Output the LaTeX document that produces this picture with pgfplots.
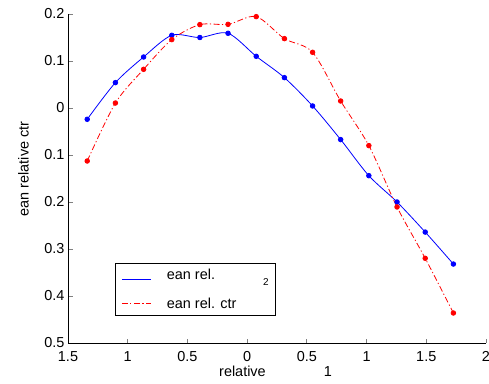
\documentclass[border=0pt]{standalone}
\usepackage{pgfplots}
\pgfplotsset{compat=1.18}
\usepackage{fontspec}
\setmainfont{Liberation Sans}
\newcommand\ff{\fontsize{14.5}{17}\selectfont}
\pgfplotsset{
  bluelegimg/.style={legend image code/.code={\path (0bp,-4.35bp) -- (29bp,-4.35bp);\pgfpathrectangle{\pgfpoint{0bp}{-9bp}}{\pgfpoint{29bp}{18bp}}\pgfusepath{use as bounding box}}},
  redlegimg/.style={legend image code/.code={\path (0bp,0bp) -- (29bp,0bp);\pgfpathrectangle{\pgfpoint{0bp}{-9bp}}{\pgfpoint{29bp}{18bp}}\pgfusepath{use as bounding box}}},
}
\begin{document}
\begin{tikzpicture}
\useasboundingbox (0,0) rectangle (489bp,384bp);
\begin{axis}[
  at={(68bp,41bp)}, anchor=south west,
  scale only axis, width=418bp, height=329bp,
  xmin=-1.5, xmax=2, ymin=-0.5, ymax=0.2,
  axis lines*=left,
  tick pos=left,
  tick align=inside,
  major tick length=4.5bp,
  axis line style={line width=0.8bp},
  xtick={-1.5,-1,-0.5,0,0.5,1,1.5,2},
  xticklabels={1.5,1,0.5,0,0.5,1,1.5,2},
  ytick={-0.5,-0.4,-0.3,-0.2,-0.1,0,0.1,0.2},
  yticklabels={0.5,0.4,0.3,0.2,0.1,0,0.1,0.2},
  /pgf/number format/assume math mode=true,
  tick label style={font=\ff},
  major tick style={line width=0.8bp},
  xticklabel style={yshift=-5bp},
  xlabel={relative\hspace{58bp}1},
  xlabel style={at={(axis description cs:0.4964,-0.1024)}, anchor=base, font=\ff},
  ylabel={ean relative ctr},
  ylabel style={at={(axis description cs:-0.0945,0.529)}, anchor=base, font=\ff},
  legend cell align=left,
  legend style={at={(axis description cs:0.1124,0.244)}, anchor=north west,
    line width=0.8bp, fill=white,
    inner xsep=6bp, inner ysep=2bp, column sep=15.7bp, row sep=9.7bp,
    nodes={inner sep=0pt, text depth=},
    font=\ff},
]
\addplot[color=blue, line width=0.8bp, smooth, mark=*, mark size=2.3bp, bluelegimg]
coordinates {
(-1.339,-0.024) (-1.103,0.054) (-0.867,0.1085) (-0.631,0.1547) (-0.396,0.150)
(-0.160,0.159) (0.076,0.110) (0.312,0.0646) (0.548,0.0043) (0.783,-0.0672)
(1.019,-0.144) (1.255,-0.200) (1.491,-0.264) (1.727,-0.332)
};
\addlegendentry{\rule[-4.7bp]{0pt}{19.3bp}\makebox[102.3bp][l]{ean rel.\hspace{48bp}\raisebox{-5.4bp}[0pt][0pt]{\fontsize{10}{12}\selectfont 2}}}
\addplot[color=red, line width=0.8bp, smooth, dash pattern=on 6bp off 2.5bp on 1.2bp off 2.5bp,
  mark=*, mark size=2.3bp, mark options={solid}, redlegimg]
coordinates {
(-1.339,-0.1128) (-1.103,0.0106) (-0.867,0.0823) (-0.631,0.1455) (-0.396,0.1774)
(-0.160,0.178) (0.076,0.1944) (0.312,0.1476) (0.548,0.1185) (0.783,0.0149)
(1.019,-0.080) (1.255,-0.2106) (1.491,-0.3198) (1.727,-0.4362)
};
\addlegendentry{\rule[-4.7bp]{0pt}{19.3bp}\makebox[102.3bp][l]{ean rel. ctr}}
\end{axis}
\end{tikzpicture}
\end{document}
